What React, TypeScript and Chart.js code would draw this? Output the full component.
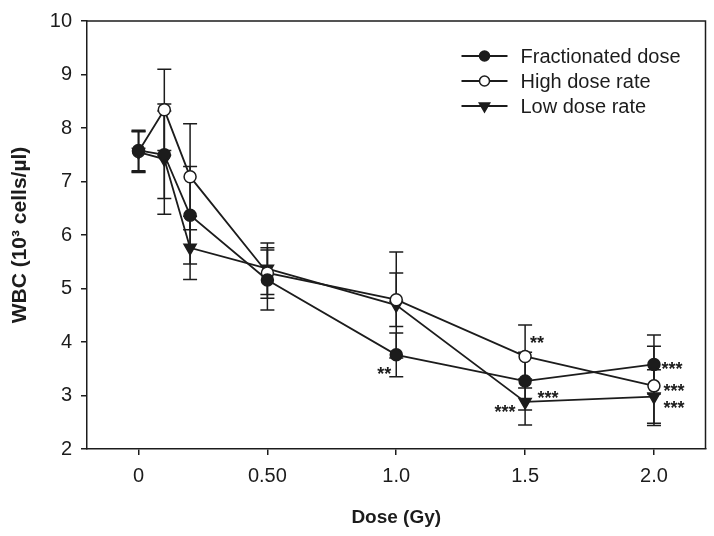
import React, { useEffect, useRef } from 'react';
import { Chart, registerables } from 'chart.js';

Chart.register(...registerables);

// ---- Data ----
const doses = [0, 0.1, 0.2, 0.5, 1.0, 1.5, 2.0];

const fractionated = [7.58, 7.5, 6.37, 5.16, 3.76, 3.27, 3.58];
const fractionatedErr = [0.38, 0.82, 0.91, 0.56, 0.41, 0.54, 0.55];

const highRate = [7.56, 8.34, 7.09, 5.29, 4.79, 3.73, 3.18];
const highRateErr = [0.38, 0.76, 0.99, 0.47, 0.5, 0.59, 0.74];

const lowRate = [7.55, 7.42, 5.76, 5.37, 4.69, 2.88, 2.98];
const lowRateErr = [0.38, 1.03, 0.59, 0.48, 0.99, 0.43, 0.5];

const seriesNames = ['Fractionated dose', 'High dose rate', 'Low dose rate'];

const xTickValues = [0, 0.5, 1.0, 1.5, 2.0];
const xTickLabels = ['0', '0.50', '1.0', '1.5', '2.0'];

const yTickMin = 2;
const yTickMax = 10;

// significance marks: series index, point index, text
const sigSeries = [0, 1, 0, 2, 0, 1, 2];
const sigPoint = [4, 5, 5, 5, 6, 6, 6];
const sigText = ['**', '**', '***', '***', '***', '***', '***'];

// ---- Styling / layout (not data) ----
const INK = '#1c1c1c';
const FONT = '"Liberation Sans", Arial, Helvetica, sans-serif';
// pixel offsets of each significance label from its point (center x, visual center y)
const sigOffset: [number, number][] = [
  [-12, 15],
  [12, -18],
  [23, 12],
  [-20, 6],
  [18, 0],
  [20, 1],
  [20, 7],
];

const values = [fractionated, highRate, lowRate];
const errors = [fractionatedErr, highRateErr, lowRateErr];
const pointStyles: any[] = ['circle', 'circle', 'triangle'];
const fills = [INK, '#ffffff', INK];
const radii = [6, 6, 7];
const rotations = [0, 0, 180];

function drawMarker(ctx: CanvasRenderingContext2D, kind: number, x: number, y: number) {
  ctx.save();
  ctx.lineWidth = 1.5;
  ctx.strokeStyle = INK;
  ctx.fillStyle = fills[kind];
  ctx.beginPath();
  if (kind === 2) {
    const r = 6;
    ctx.moveTo(x - r * Math.sin(Math.PI / 3), y - r / 2);
    ctx.lineTo(x + r * Math.sin(Math.PI / 3), y - r / 2);
    ctx.lineTo(x, y + r);
    ctx.closePath();
  } else {
    ctx.arc(x, y, 5, 0, Math.PI * 2);
  }
  ctx.fill();
  ctx.stroke();
  ctx.restore();
}

const decorPlugin = {
  id: 'decor',
  beforeDatasetsDraw(chart: any) {
    const ctx: CanvasRenderingContext2D = chart.ctx;
    const ys = chart.scales.y;
    ctx.save();
    ctx.strokeStyle = INK;
    ctx.lineWidth = 1.5;
    for (let s = 0; s < values.length; s++) {
      const meta = chart.getDatasetMeta(s);
      for (let i = 0; i < values[s].length; i++) {
        const el = meta.data[i];
        const x = el.x;
        const top = ys.getPixelForValue(values[s][i] + errors[s][i]);
        const bot = ys.getPixelForValue(values[s][i] - errors[s][i]);
        ctx.beginPath();
        ctx.moveTo(x, top);
        ctx.lineTo(x, bot);
        ctx.moveTo(x - 7, top);
        ctx.lineTo(x + 7, top);
        ctx.moveTo(x - 7, bot);
        ctx.lineTo(x + 7, bot);
        ctx.stroke();
      }
    }
    ctx.restore();
  },
  afterDatasetsDraw(chart: any) {
    const ctx: CanvasRenderingContext2D = chart.ctx;
    const area = chart.chartArea;
    ctx.save();
    // frame top and right
    ctx.strokeStyle = INK;
    ctx.lineWidth = 1.5;
    ctx.beginPath();
    ctx.moveTo(area.left, area.top);
    ctx.lineTo(area.right, area.top);
    ctx.lineTo(area.right, area.bottom);
    ctx.stroke();

    // significance marks
    ctx.fillStyle = INK;
    ctx.font = `bold 18px ${FONT}`;
    ctx.textAlign = 'center';
    ctx.textBaseline = 'alphabetic';
    for (let k = 0; k < sigText.length; k++) {
      const el = chart.getDatasetMeta(sigSeries[k]).data[sigPoint[k]];
      const [dx, dy] = sigOffset[k];
      ctx.fillText(sigText[k], el.x + dx, el.y + dy + 10.5);
    }

    // legend
    const lx1 = area.right - 244;
    const lx2 = area.right - 198;
    const mx = area.right - 221;
    const tx = area.right - 185;
    ctx.font = `20px ${FONT}`;
    ctx.textAlign = 'left';
    ctx.textBaseline = 'middle';
    for (let s = 0; s < seriesNames.length; s++) {
      const y = area.top + 35 + s * 25;
      ctx.strokeStyle = INK;
      ctx.lineWidth = 1.8;
      ctx.beginPath();
      ctx.moveTo(lx1, y);
      ctx.lineTo(lx2, y);
      ctx.stroke();
      drawMarker(ctx, s, mx, y);
      ctx.fillStyle = INK;
      ctx.fillText(seriesNames[s], tx, y + 1);
    }
    ctx.restore();
  },
};

export default function App() {
  const ref = useRef<HTMLCanvasElement>(null);
  useEffect(() => {
    const canvas = ref.current;
    if (!canvas) return;
    const chart = new Chart(canvas, {
      type: 'scatter',
      data: {
        datasets: values.map((vals, s) => ({
          label: seriesNames[s],
          data: doses.map((d, i) => ({ x: d, y: vals[i] })),
          showLine: true,
          borderColor: INK,
          borderWidth: 1.8,
          backgroundColor: fills[s],
          pointBackgroundColor: fills[s],
          pointBorderColor: INK,
          pointBorderWidth: 1.5,
          pointRadius: radii[s],
          pointStyle: pointStyles[s],
          pointRotation: rotations[s],
          tension: 0,
          clip: false as any,
        })),
      },
      options: {
        responsive: false,
        animation: false,
        events: [],
        layout: { padding: { left: 0, right: 8, top: 15, bottom: 0 } },
        plugins: {
          legend: { display: false },
          tooltip: { enabled: false },
        },
        scales: {
          x: {
            type: 'linear',
            min: -0.2,
            max: 2.2,
            afterBuildTicks: (scale: any) => {
              scale.ticks = xTickValues.map((v) => ({ value: v }));
            },
            afterFit: (scale: any) => {
              scale.height = 87;
            },
            ticks: {
              autoSkip: false,
              maxRotation: 0,
              padding: 9,
              color: INK,
              font: { family: FONT, size: 20 },
              callback: (v: any) => {
                const idx = xTickValues.findIndex((t) => Math.abs(t - Number(v)) < 1e-9);
                return idx >= 0 ? xTickLabels[idx] : '';
              },
            },
            grid: { drawOnChartArea: false, tickLength: 6, color: INK, lineWidth: 1.5 },
            border: { color: INK, width: 1.5 },
            title: {
              display: true,
              text: 'Dose (Gy)',
              color: INK,
              font: { family: FONT, size: 19, weight: 'bold' },
              padding: { top: 0, bottom: 7 },
            },
          },
          y: {
            min: yTickMin,
            max: yTickMax,
            afterFit: (scale: any) => {
              scale.width = 87;
            },
            ticks: {
              stepSize: 1,
              padding: 9,
              color: INK,
              font: { family: FONT, size: 20 },
            },
            grid: { drawOnChartArea: false, tickLength: 6, color: INK, lineWidth: 1.5 },
            border: { color: INK, width: 1.5 },
            title: {
              display: true,
              text: 'WBC (10³ cells/µl)',
              color: INK,
              font: { family: FONT, size: 21, weight: 'bold' },
              padding: { top: 8, bottom: 0 },
            },
          },
        },
      },
      plugins: [decorPlugin],
    });
    return () => chart.destroy();
  }, []);
  return (
    <div style={{ position: 'absolute', left: 0, top: 0, width: 714, height: 536 }}>
      <canvas ref={ref} width={714} height={536} style={{ display: 'block', width: 714, height: 536 }} />
    </div>
  );
}
